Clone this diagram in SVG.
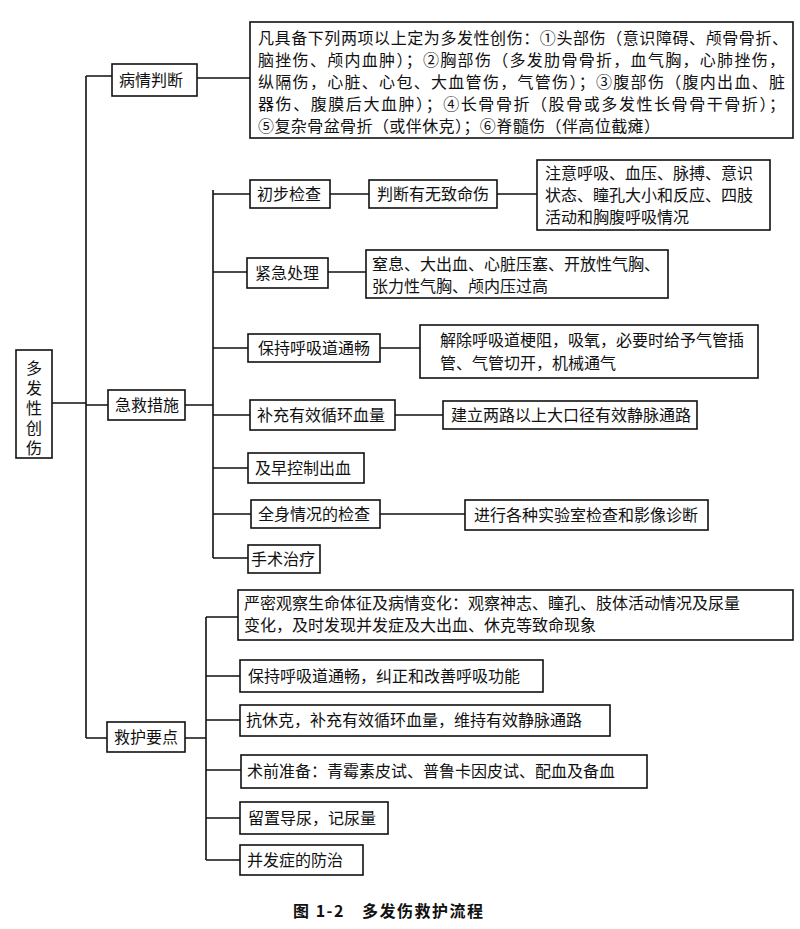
<svg xmlns="http://www.w3.org/2000/svg" width="800" height="929" viewBox="0 0 800 929">
<style>
.b{fill:#fff;stroke:#111;stroke-width:1.6}
.t{font-family:"Noto Sans CJK SC","Noto Sans",sans-serif;font-size:16px;fill:#111}
.l{fill:none;stroke:#111;stroke-width:1.6}
.cap{font-family:"Noto Sans CJK SC",sans-serif;font-size:16px;font-weight:bold;fill:#111}
</style>
<rect width="800" height="929" fill="#fff"/>
<g id="connectors">
<path class="l" d="M52 403H86M86 76V738M86 76H112M86 405H108M86 738H107M197 78H250"/>
<path class="l" d="M185 405H213M213 190V558M213 194H250M330 194H369M497 194H537M213 272H247M328 272H366M213 348H248M380 348H420M213 415H250M395 415H443M213 468H248M213 514H251M380 514H465M213 558H248"/>
<path class="l" d="M185 738H206M206 617V860M206 617H238M206 676H240M206 720H240M206 770H241M206 818H240M206 860H240"/>
</g>
<g id="root"><rect class="b" x="16" y="350" width="36" height="108"/>
<text class="t" font-size="17" x="34" y="360" writing-mode="vertical-rl" letter-spacing="4">多发性创伤</text></g>
<g id="n1"><rect class="b" x="112" y="64" width="85" height="32"/><text class="t" x="119" y="86">病情判断</text></g>
<g id="n1a"><rect class="b" x="250" y="22" width="543" height="116"/>
<text class="t" font-size="16.5"><tspan x="258" y="44" textLength="530">凡具备下列两项以上定为多发性创伤：①头部伤（意识障碍、颅骨骨折、</tspan><tspan x="258" y="66" textLength="527">脑挫伤、颅内血肿）；②胸部伤（多发肋骨骨折，血气胸，心肺挫伤，</tspan><tspan x="258" y="88" textLength="527">纵隔伤，心脏、心包、大血管伤，气管伤）；③腹部伤（腹内出血、脏</tspan><tspan x="258" y="110" textLength="527">器伤、腹膜后大血肿）；④长骨骨折（股骨或多发性长骨骨干骨折）；</tspan><tspan x="258" y="132" textLength="402">⑤复杂骨盆骨折（或伴休克）；⑥脊髓伤（伴高位截瘫）</tspan></text></g>
<g id="n2"><rect class="b" x="108" y="390" width="77" height="30"/><text class="t" x="115" y="411">急救措施</text></g>
<g id="n2a"><rect class="b" x="250" y="180" width="80" height="28"/><text class="t" x="257" y="200">初步检查</text></g>
<g id="n2a1"><rect class="b" x="369" y="180" width="128" height="28"/><text class="t" x="377" y="200">判断有无致命伤</text></g>
<g id="n2a2"><rect class="b" x="537" y="160" width="233" height="70"/><text class="t"><tspan x="545" y="179">注意呼吸、血压、脉搏、意识</tspan><tspan x="545" y="201">状态、瞳孔大小和反应、四肢</tspan><tspan x="545" y="223">活动和胸腹呼吸情况</tspan></text></g>
<g id="n2b"><rect class="b" x="247" y="258" width="81" height="30"/><text class="t" x="255" y="279">紧急处理</text></g>
<g id="n2b1"><rect class="b" x="366" y="250" width="302" height="48"/><text class="t"><tspan x="372" y="270">窒息、大出血、心脏压塞、开放性气胸、</tspan><tspan x="372" y="292">张力性气胸、颅内压过高</tspan></text></g>
<g id="n2c"><rect class="b" x="248" y="334" width="132" height="28"/><text class="t" x="258" y="354">保持呼吸道通畅</text></g>
<g id="n2c1"><rect class="b" x="420" y="325" width="338" height="53"/><text class="t"><tspan x="440" y="346">解除呼吸道梗阻，吸氧，必要时给予气管插</tspan><tspan x="440" y="369">管、气管切开，机械通气</tspan></text></g>
<g id="n2d"><rect class="b" x="250" y="400" width="145" height="30"/><text class="t" x="257" y="421">补充有效循环血量</text></g>
<g id="n2d1"><rect class="b" x="443" y="401" width="254" height="28"/><text class="t" x="451" y="421">建立两路以上大口径有效静脉通路</text></g>
<g id="n2e"><rect class="b" x="248" y="453" width="116" height="30"/><text class="t" x="255" y="474">及早控制出血</text></g>
<g id="n2f"><rect class="b" x="251" y="500" width="129" height="28"/><text class="t" x="258" y="520">全身情况的检查</text></g>
<g id="n2f1"><rect class="b" x="465" y="500" width="243" height="30"/><text class="t" x="474" y="521">进行各种实验室检查和影像诊断</text></g>
<g id="n2g"><rect class="b" x="248" y="545" width="72" height="28"/><text class="t" x="251" y="565">手术治疗</text></g>
<g id="n3"><rect class="b" x="107" y="722" width="78" height="30"/><text class="t" x="114" y="743">救护要点</text></g>
<g id="n3a"><rect class="b" x="238" y="590" width="555" height="50"/><text class="t"><tspan x="244" y="609">严密观察生命体征及病情变化：观察神志、瞳孔、肢体活动情况及尿量</tspan><tspan x="244" y="631">变化，及时发现并发症及大出血、休克等致命现象</tspan></text></g>
<g id="n3b"><rect class="b" x="240" y="660" width="303" height="32"/><text class="t" x="248" y="682">保持呼吸道通畅，纠正和改善呼吸功能</text></g>
<g id="n3c"><rect class="b" x="240" y="705" width="370" height="31"/><text class="t" x="246" y="726">抗休克，补充有效循环血量，维持有效静脉通路</text></g>
<g id="n3d"><rect class="b" x="241" y="755" width="406" height="33"/><text class="t" x="247" y="777">术前准备：青霉素皮试、普鲁卡因皮试、配血及备血</text></g>
<g id="n3e"><rect class="b" x="240" y="802" width="148" height="32"/><text class="t" x="248" y="824">留置导尿，记尿量</text></g>
<g id="n3f"><rect class="b" x="240" y="845" width="123" height="30"/><text class="t" x="247" y="866">并发症的防治</text></g>
<text class="cap" y="917" letter-spacing="1.5"><tspan x="293">图 1-2</tspan><tspan x="362">多发伤救护流程</tspan></text>
</svg>
